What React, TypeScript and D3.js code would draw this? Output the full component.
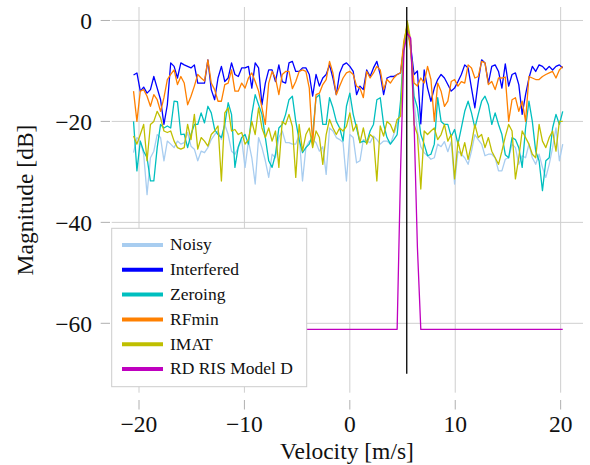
import React from "react";
import * as d3 from "d3";

// FFT velocity bins (128 bins, step in m/s)
const binCount = 128;
const velocityStep = 0.3206;
const velocities: number[] = Array.from({ length: binCount }, (_, i) => (i - 64) * velocityStep);

const noisy: number[] = [
  -26.2, -23.2, -23.9, -26.5, -34.5, -27.2, -25.9, -22.6, -23.2, -27.8, -23.9, -24.5, -25.2, -23.9, -24.5,
  -24.2, -22.2, -24.9, -25.5, -27.8, -25.9, -26.2, -25.2, -23.6, -22.6, -21.9, -23.6, -20.6, -22.6, -25.9, -26.5, -25.2,
  -23.6, -29.1, -23.9, -27.2, -32.4, -23.2, -25.2, -27.8, -31.1, -26.5, -27.2, -23.2, -21.9, -24.2, -24.2,
  -24.5, -24.5, -22.6, -31.8, -25.2, -23.9, -23.6, -24.2, -25.9, -25.0, -30.5, -21.3, -21.9, -23.2, -23.6, -24.2,
  -31.8, -22.6, -23.2, -28.2, -27.8, -23.6, -23.9, -24.2, -22.9, -23.6, -24.5, -23.9, -23.9, -24.5, -22.6, -20.6,
  -18, -6, -0.8, -5, -16,
  -22, -25, -26.2, -26.8, -27.5, -27.2, -24.5, -25, -24, -26, -24,
  -32.4, -25.9, -26.5, -27.2, -28.5, -25.9, -22.6, -23.6, -24.5, -26.8, -26.5, -26.5, -27.2, -29.8, -29.8,
  -27.5,
  -27.2, -24.5, -25.2, -28.5, -26.8, -27.2, -24.5, -27.2, -28.5, -26.5, -29.1, -31.1, -28.5, -25.2, -21.3, -27.8, -24.5,
];

const interfered: number[] = [
  -10.8, -10.4, -14, -13.2, -14.4, -13.7, -11.1, -13.4, -15.7, -20.6, -16.7, -8.4, -9.1, -11.4, -8.4,
  -8.8, -9.1, -9.4, -8.8, -12.4, -12.4, -12.4, -7.8, -13.7, -15.7, -11.4, -9.1, -12.1, -11.4, -8.4, -10.7, -11.1,
  -9.4, -9.4, -9.1, -13.4, -8.4, -9.4, -16.7, -12.4, -9.8, -9.8, -12.1, -8.8, -12.1, -12.4, -8.4,
  -8.1, -10.1, -10.1, -9.4, -9.4, -10.7, -15, -10.7, -13.0, -11.4, -10.7, -8.8, -11.4, -14.7, -10.4, -8.8,
  -8.4, -9.1, -10.1, -14.7, -13.0, -13.7, -9.8, -11.1, -9.4, -8.1, -10.7, -14.7, -11.4, -11.1, -11.1, -10.7,
  -10.4, -5, -1.8, -5, -10.7,
  -10, -20.5, -9.8, -13.4, -16, -13.4, -11.7, -10.7, -11.4, -12.7, -14,
  -13.4, -12.1, -10.7, -8.8, -9.4, -13.4, -17.3, -12.1, -7.8, -8.4, -12.4, -9.1, -8.8, -10.1, -13.4,
  -8.6,
  -13.0, -10.7, -10.4, -12.7, -18.6, -14.7, -11.4, -9.1, -10.1, -8.8, -9.1, -9.8, -9.1, -9.8, -9.1, -8.8, -9.4,
];

const zeroing: number[] = [
  -20, -29.8, -23.9, -25.9, -27.2, -31.8, -31.8, -25.2, -20.6, -21.3, -20.9, -21.3, -16, -16.1, -22.6,
  -22.5, -25.2, -22.6, -20.6, -20.6, -18.3, -20.3, -17, -18.3, -21.6, -22.6, -23.2, -20.6, -16.3, -18.6, -29.1, -25,
  -23.2, -22.6, -24.5, -18.6, -14.7, -16.7, -18.6, -23.2, -27.8, -29.1, -26.5, -21.3, -20.6, -18.6, -15.7,
  -15, -20, -23.6, -26.2, -25.2, -24.5, -22.6, -15.3, -14.7, -20.6, -20.6, -15.3, -17.3, -20, -21.3, -23.9,
  -17, -14.4, -18.6, -21.3, -24.2, -23.9, -24.2, -21.9, -20.6, -15.7, -15.3, -20.6, -23.2, -24.5, -23.6, -22.6,
  -16, -5, -0.6, -5, -15,
  -17.3, -22.6, -24.5, -26.8, -26.5, -24.5, -15.3, -20, -20.6, -20.6, -23,
  -21.6, -24.5, -21.3, -18, -16, -18.3, -21.3, -18.6, -16, -15, -16.7, -20.6, -18.3, -20.6, -22.6,
  -26.6,
  -27.2, -23.2, -23.6, -25.2, -29.1, -21.3, -16, -20, -25.9, -27.8, -33.7, -27.8, -27.2, -21.3, -18.6, -20.6, -18,
];

const rfmin: number[] = [
  -14, -20, -14, -13.7, -15, -17, -14.7, -15.7, -18, -15.3, -11.7, -10.7, -9.8, -12.7, -11.1,
  -12.4, -16.7, -15, -13.0, -10.7, -11.4, -12, -7.8, -12.4, -13.7, -16, -16, -12.7, -12.4, -9.8, -14, -14,
  -12.4, -13.4, -11.4, -10.4, -12.1, -14, -17.3, -20.6, -12.4, -10.1, -11.4, -14.7, -10.7, -10.1, -10.1,
  -13.5, -12.1, -10.1, -9.8, -10.1, -13.4, -24.5, -14.7, -14.4, -12.7, -11.7, -8.1, -10.4, -14.7, -13.0, -11.4,
  -10.4, -10.1, -10.7, -13.0, -13.4, -15.3, -10.1, -11.4, -10.4, -9.1, -9.8, -13.7, -11.7, -12.4, -11.4, -10.7,
  -10.4, -4, -1.0, -6, -12.4,
  -13.0, -11.4, -12.4, -9.1, -11.7, -20, -12.4, -14, -17, -16, -12.1,
  -11.7, -13.0, -12.1, -12.4, -8.8, -9.4, -11.4, -11.1, -8.1, -8.4, -12.7, -12.1, -13.7, -11.4, -11.4,
  -11.2,
  -20, -15.7, -15.3, -18, -16, -20, -11.1, -11.4, -11.7, -11.7, -11.1, -10.7, -10.4, -10.1, -11.4, -9.8, -9.1,
];

const imat: number[] = [
  -22.9, -24.5, -22.6, -20.6, -27.8, -20.6, -20, -18, -19.3, -21.9, -22.2, -21.9, -23.9, -25.2, -25.5,
  -25.2, -20.6, -23.6, -18.6, -25.5, -23.2, -23.9, -24.9, -22.6, -21.9, -20.9, -31.8, -18.3, -17.3, -21.9, -21.6, -22.6,
  -22.2, -24.5, -23.6, -20, -22.6, -17.3, -21.3, -23.2, -21.3, -23.9, -21.9, -29.1, -20, -20.6, -18.6,
  -21, -31.1, -20.6, -25.9, -22.6, -21.3, -25.2, -21.9, -23.2, -28.5, -22.6, -19.6, -21.3, -22.6, -21.3, -21.9,
  -21, -18.3, -21.9, -20.6, -24.2, -21.3, -24.5, -22.6, -23.2, -31.8, -20.9, -22.9, -20, -20.6, -22.2, -19.6,
  -19, -5, -0.1, -4, -20.6,
  -22.6, -33.4, -21.9, -22.6, -21.9, -21.3, -23.6, -22.6, -20.6, -23.9, -22.6,
  -31.4, -23.9, -26.8, -24.2, -27.5, -24.5, -20.6, -23.2, -22.6, -25.2, -23.2, -25.9, -27.2, -28.5, -25.9,
  -23,
  -20.6, -21.9, -31.4, -27.2, -21.9, -23.2, -24.5, -26.5, -27.2, -20.6, -23.9, -25.2, -23.2, -21.9, -25.9, -20, -20,
];

const rdRis: number[] = [
  -61.2, -61.2, -61.2, -61.2, -61.2, -61.2, -61.2, -61.2, -61.2, -61.2, -61.2, -61.2, -61.2, -61.2, -61.2, -61.2,
  -61.2, -61.2, -61.2, -61.2, -61.2, -61.2, -61.2, -61.2, -61.2, -61.2, -61.2, -61.2, -61.2, -61.2, -61.2, -61.2,
  -61.2, -61.2, -61.2, -61.2, -61.2, -61.2, -61.2, -61.2, -61.2, -61.2, -61.2, -61.2, -61.2, -61.2, -61.2, -61.2,
  -61.2, -61.2, -61.2, -61.2, -61.2, -61.2, -61.2, -61.2, -61.2, -61.2, -61.2, -61.2, -61.2, -61.2, -61.2, -61.2,
  -61.2, -61.2, -61.2, -61.2, -61.2, -61.2, -61.2, -61.2, -61.2, -61.2, -61.2, -61.2, -61.2, -61.2, -61.2, -30,
  -6, -2.5, -3.5, -20, -45, -61.2, -61.2, -61.2, -61.2, -61.2, -61.2, -61.2, -61.2, -61.2, -61.2, -61.2,
  -61.2, -61.2, -61.2, -61.2, -61.2, -61.2, -61.2, -61.2, -61.2, -61.2, -61.2, -61.2, -61.2, -61.2, -61.2, -61.2,
  -61.2, -61.2, -61.2, -61.2, -61.2, -61.2, -61.2, -61.2, -61.2, -61.2, -61.2, -61.2, -61.2, -61.2, -61.2, -61.2,
];

const truthVelocity = 5.4;
const truthLineBottom = -70;

const seriesNames = ["Noisy", "Interfered", "Zeroing", "RFmin", "IMAT", "RD RIS Model D"];
const seriesValues = [noisy, interfered, zeroing, rfmin, imat, rdRis];
const seriesColors = ["#a8cdf0", "#0000ff", "#00bfbf", "#ff8000", "#bfbf00", "#bf00bf"];

const xTicks = [-20, -10, 0, 10, 20];
const yTicks = [0, -20, -40, -60];
const xDomain: [number, number] = [-22.59, 22.12];
const yDomain: [number, number] = [-73.75, 2.67];

const FONT = "'Liberation Serif', 'Times New Roman', serif";
const fmt = (v: number) => (v < 0 ? "\u2212" + Math.abs(v) : String(v));

export default function App() {
  const left = 111.7, right = 583, top = 7, bottom = 392.7;
  const x = d3.scaleLinear().domain(xDomain).range([left, right]);
  const y = d3.scaleLinear().domain(yDomain).range([bottom, top]);
  const line = d3
    .line<number>()
    .x((_, i) => x(velocities[i]))
    .y((d) => y(d));

  const gridColor = "#cfcfcf";
  const legendX = 111.7, legendY = 228.3, legendW = 195, legendH = 158.4;

  return (
    <svg
      width={590}
      height={465}
      style={{ position: "absolute", left: 0, top: 0, background: "#fff" }}
      fontFamily={FONT}
    >
      <rect width={590} height={465} fill="#fff" />
      {xTicks.map((t) => (
        <line key={"gx" + t} x1={x(t)} x2={x(t)} y1={top} y2={bottom} stroke={gridColor} strokeWidth={1} />
      ))}
      {yTicks.map((t) => (
        <line key={"gy" + t} x1={left} x2={right} y1={y(t)} y2={y(t)} stroke={gridColor} strokeWidth={1} />
      ))}
      {xTicks.map((t) => (
        <g key={"tx" + t}>
          <line x1={x(t)} x2={x(t)} y1={400} y2={409.5} stroke="#b0b0b0" strokeWidth={1} />
          <text x={x(t)} y={432} fontSize={23.5} textAnchor="middle" fill="#111">
            {fmt(t)}
          </text>
        </g>
      ))}
      {yTicks.map((t) => (
        <g key={"ty" + t}>
          <line x1={100.7} x2={110} y1={y(t)} y2={y(t)} stroke="#b0b0b0" strokeWidth={1} />
          <text x={92} y={y(t) + 8.5} fontSize={23.5} textAnchor="end" fill="#111">
            {fmt(t)}
          </text>
        </g>
      ))}
      <text x={347} y={458.5} fontSize={23.5} textAnchor="middle" fill="#111">
        Velocity [m/s]
      </text>
      <text transform="translate(33,200) rotate(-90)" fontSize={23.5} textAnchor="middle" fill="#111">
        Magnitude [dB]
      </text>
      {seriesValues.map((vals, k) => (
        <path
          key={"s" + k}
          d={line(vals) || ""}
          fill="none"
          stroke={seriesColors[k]}
          strokeWidth={1.3}
          strokeLinejoin="round"
        />
      ))}
      <line
        x1={x(truthVelocity)}
        x2={x(truthVelocity)}
        y1={y(truthLineBottom)}
        y2={y(yDomain[1])}
        stroke="#000"
        strokeWidth={1.3}
      />
      <rect x={legendX} y={legendY} width={legendW} height={legendH} fill="#fff" stroke="#cccccc" strokeWidth={1} />
      {seriesNames.map((name, k) => {
        const cy = 245 + k * 24.8;
        return (
          <g key={"l" + k}>
            <line x1={122} x2={163} y1={cy} y2={cy} stroke={seriesColors[k]} strokeWidth={4} />
            <text x={170} y={cy + 5.3} fontSize={17.5} fill="#111">
              {name}
            </text>
          </g>
        );
      })}
    </svg>
  );
}
